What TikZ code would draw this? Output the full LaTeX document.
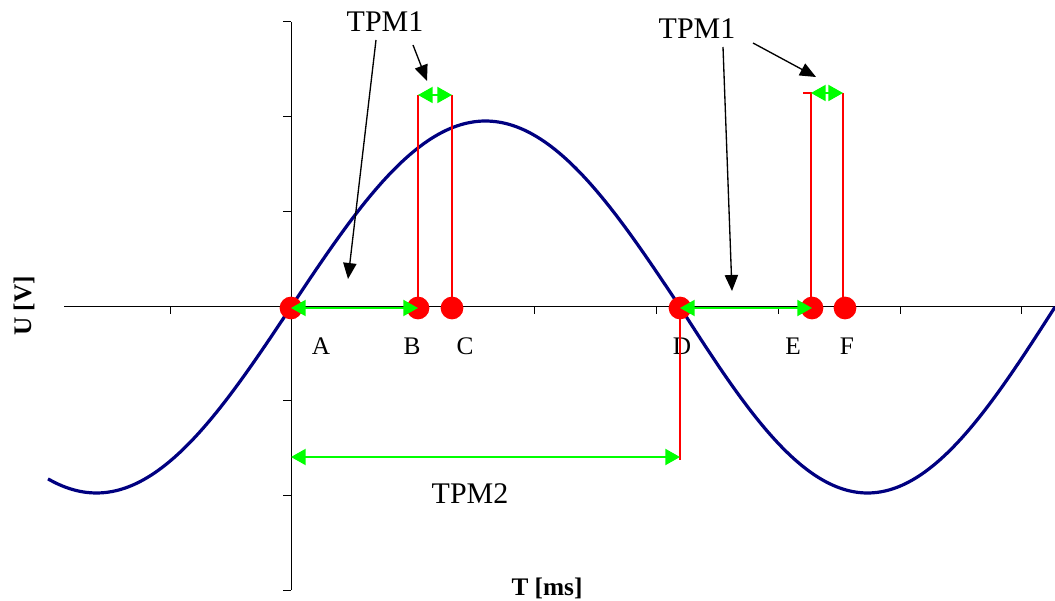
\documentclass[tikz,border=0pt]{standalone}
\usepackage{fontspec}
\setmainfont{Liberation Serif}
\usetikzlibrary{arrows.meta, positioning, calc}
\definecolor{sigblue}{HTML}{000080}
\definecolor{mkred}{HTML}{FF0000}
\definecolor{spangreen}{HTML}{00FF00}

\tikzset{
  reddot/.style={circle, fill=mkred, inner sep=0pt, minimum size=0.6cm},
  ptlabel/.style={font=\fontsize{19}{22}\selectfont},
  tpmlabel/.style={font=\fontsize{22.5}{26}\selectfont},
  axislabel/.style={font=\fontsize{19}{22}\selectfont\bfseries},
  span/.style={{Triangle[length=11pt,width=12pt]}-{Triangle[length=11pt,width=12pt]},
    spangreen, line width=1.5pt},
  marker/.style={mkred, line width=1.1pt},
  pointer/.style={-{Triangle[length=12pt,width=10pt]}, black, line width=1pt}
}

\begin{document}
\begin{tikzpicture}[x=0.0264cm, y=-0.0264cm]
  \useasboundingbox (0,0) rectangle (1055,601);

  % Axes
  \draw[black, line width=0.75pt] (64,307) -- (1055,307);
  \draw[black, line width=0.75pt] (291,22) -- (291,590);
  \foreach \ty in {22,116.7,211.3,400.7,495.3,590}
    \draw[black, line width=0.75pt] (283,\ty) -- (291,\ty);
  \foreach \tx in {170,413,534,656,778,900,1021}
    \draw[black, line width=0.75pt] (\tx,307) -- (\tx,314);
  \node[axislabel, rotate=90] (ulab) at (24,306) {U [V]};
  \node[axislabel] (tlab) at (547,588) {T [ms]};

  % Signal
  \draw[sigblue, line width=2.4pt, line join=round]
    plot[domain=48:680, samples=90, smooth] (\x, {307-186*sin((\x-291)/778*360)})
    -- plot[domain=680:1055, samples=60, smooth] (\x, {307+186*sin((\x-680)/375*180)});

  % Measuring points
  \node[reddot] (A) at (291,308) {};
  \node[reddot] (B) at (418,308) {};
  \node[reddot] (C) at (452,308) {};
  \node[reddot] (D) at (680,308) {};
  \node[reddot] (E) at (812,308) {};
  \node[reddot] (F) at (845,308) {};

  \node[ptlabel] (lA) at (321,346) {A};
  \node[ptlabel] (lB) at (412,346) {B};
  \node[ptlabel] (lC) at (465,346) {C};
  \node[ptlabel] (lD) at (682,346) {D};
  \node[ptlabel] (lE) at (793,346) {E};
  \node[ptlabel] (lF) at (847,346) {F};

  % Markers
  \coordinate (Bt) at (418,95);
  \coordinate (Ct) at (452,95);
  \coordinate (Et) at (811,93);
  \coordinate (Ft) at (843,93);
  \coordinate (Es) at (803,93);
  \coordinate (Db) at (680,460);
  \coordinate (Ab) at (291,457);
  \coordinate (Dm) at (680,457);
  \draw[marker] (Bt) -- (B.center);
  \draw[marker] (Ct) -- (C.center);
  \draw[marker] (Es) -- (Et) -- (811,307);
  \draw[marker] (Ft) -- (843,307);
  \draw[marker] (D.center) -- (Db);

  % Spans
  \draw[span] (A.center) -- (B.center);
  \draw[span] (D.center) -- (E.center);
  \draw[span] (Bt) -- (Ct);
  \draw[span] (Et) -- (Ft);
  \draw[span] (Ab) -- (Dm);
  \node[tpmlabel] (tpm2) at (470,494) {TPM2};

  % TPM1 pointers
  \node[tpmlabel] (tpmA) at (385,22) {TPM1};
  \node[tpmlabel] (tpmB) at (697,29) {TPM1};
  \coordinate (pA1) at (376,40);
  \coordinate (pA2) at (413,45);
  \coordinate (pB1) at (723,47);
  \coordinate (pB2) at (753,43);
  \coordinate (qA1) at (348,279);
  \coordinate (qA2) at (427,81);
  \coordinate (qB1) at (732,291);
  \coordinate (qB2) at (816,77);
  \draw[pointer] (pA1) -- (qA1);
  \draw[pointer] (pA2) -- (qA2);
  \draw[pointer] (pB1) -- (qB1);
  \draw[pointer] (pB2) -- (qB2);
\end{tikzpicture}
\end{document}
